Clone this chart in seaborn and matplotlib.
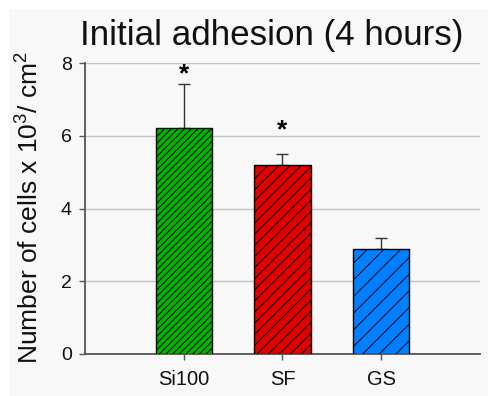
import matplotlib
matplotlib.use("Agg")
import matplotlib.pyplot as plt
import seaborn as sns
import pandas as pd
from matplotlib.patches import Rectangle

# Data
groups = ["Si100", "SF", "GS"]
cells_mean = [6.2, 5.2, 2.9]
cells_sd = [1.23, 0.3, 0.3]
bar_colors = ["#00b400", "#e00000", "#0080ff"]
bar_hatches = ["/////", "///", "//"]
significant = [True, True, False]
star_y = [7.5, 5.95]
y_ticks = [0, 2, 4, 6, 8]

sns.set_theme(style="white")
plt.rcParams["font.family"] = ["Liberation Sans", "DejaVu Sans"]
plt.rcParams["mathtext.fontset"] = "custom"
plt.rcParams["mathtext.rm"] = "Liberation Sans"
plt.rcParams["mathtext.it"] = "Liberation Sans"
plt.rcParams["mathtext.bf"] = "Liberation Sans:bold"
plt.rcParams["hatch.linewidth"] = 0.7

W, H = 489, 396
panel = "#f8f8f8"
fig = plt.figure(figsize=(W / 100, H / 100), dpi=100, facecolor="white")
fig.patches.append(Rectangle((9 / W, 0), 1 - 9 / W, 1 - 9 / H,
                             transform=fig.transFigure, facecolor=panel,
                             edgecolor="none", zorder=-10))

ax = fig.add_axes([85 / W, 1 - 354 / H, (480 - 85) / W, (354 - 63) / H])
ax.set_facecolor(panel)

df = pd.DataFrame({"group": groups, "cells": cells_mean})
sns.barplot(data=df, x="group", y="cells", hue="group", palette=bar_colors,
            order=groups, hue_order=groups, errorbar=None, width=0.57,
            saturation=1, edgecolor="black", linewidth=1.0, legend=False,
            ax=ax, zorder=3)

for patch, hatch in zip(ax.patches, bar_hatches):
    patch.set_hatch(hatch)

# upper-only error bars
ax.errorbar(range(len(groups)), cells_mean, yerr=[[0] * len(groups), cells_sd],
            fmt="none", ecolor="#333333", elinewidth=1.0, capsize=4.3,
            capthick=1.0, zorder=2)

for i, sy in enumerate(star_y):
    if significant[i]:
        ax.text(i, sy, "*", ha="center", va="baseline", fontsize=19,
                fontweight="bold", color="black")

ax.set_xlim(-1, 3)
ax.set_ylim(0, 8)
ax.set_yticks(y_ticks)
ax.yaxis.grid(True, color="#c4c4c4", linewidth=1.0, zorder=0)
ax.set_axisbelow(True)
ax.set_xlabel("")
ax.set_ylabel("")
for side in ("top", "right"):
    ax.spines[side].set_visible(False)
for side in ("left", "bottom"):
    ax.spines[side].set_color("#555555")
    ax.spines[side].set_linewidth(1.3)
ax.tick_params(axis="y", direction="out", length=4.5, width=1.0,
               color="#555555", labelsize=14, pad=5, left=True)
ax.tick_params(axis="x", direction="out", length=4.5, width=1.0,
               color="#555555", labelsize=14.5, pad=7, bottom=True)
for lab in ax.get_xticklabels() + ax.get_yticklabels():
    lab.set_color("#111111")

fig.text(272 / W, 1 - 45 / H, "Initial adhesion (4 hours)", ha="center",
         va="baseline", fontsize=25.2, color="#111111")
fig.text(30 / W, 1 - 208 / H,
         r"Number of cells x 10$^{\mathrm{3}}$/ cm$^{\mathrm{2}}$",
         rotation=90, ha="center", va="center", fontsize=19, color="#111111")

fig.savefig("out.png", dpi=100, facecolor=fig.get_facecolor())
